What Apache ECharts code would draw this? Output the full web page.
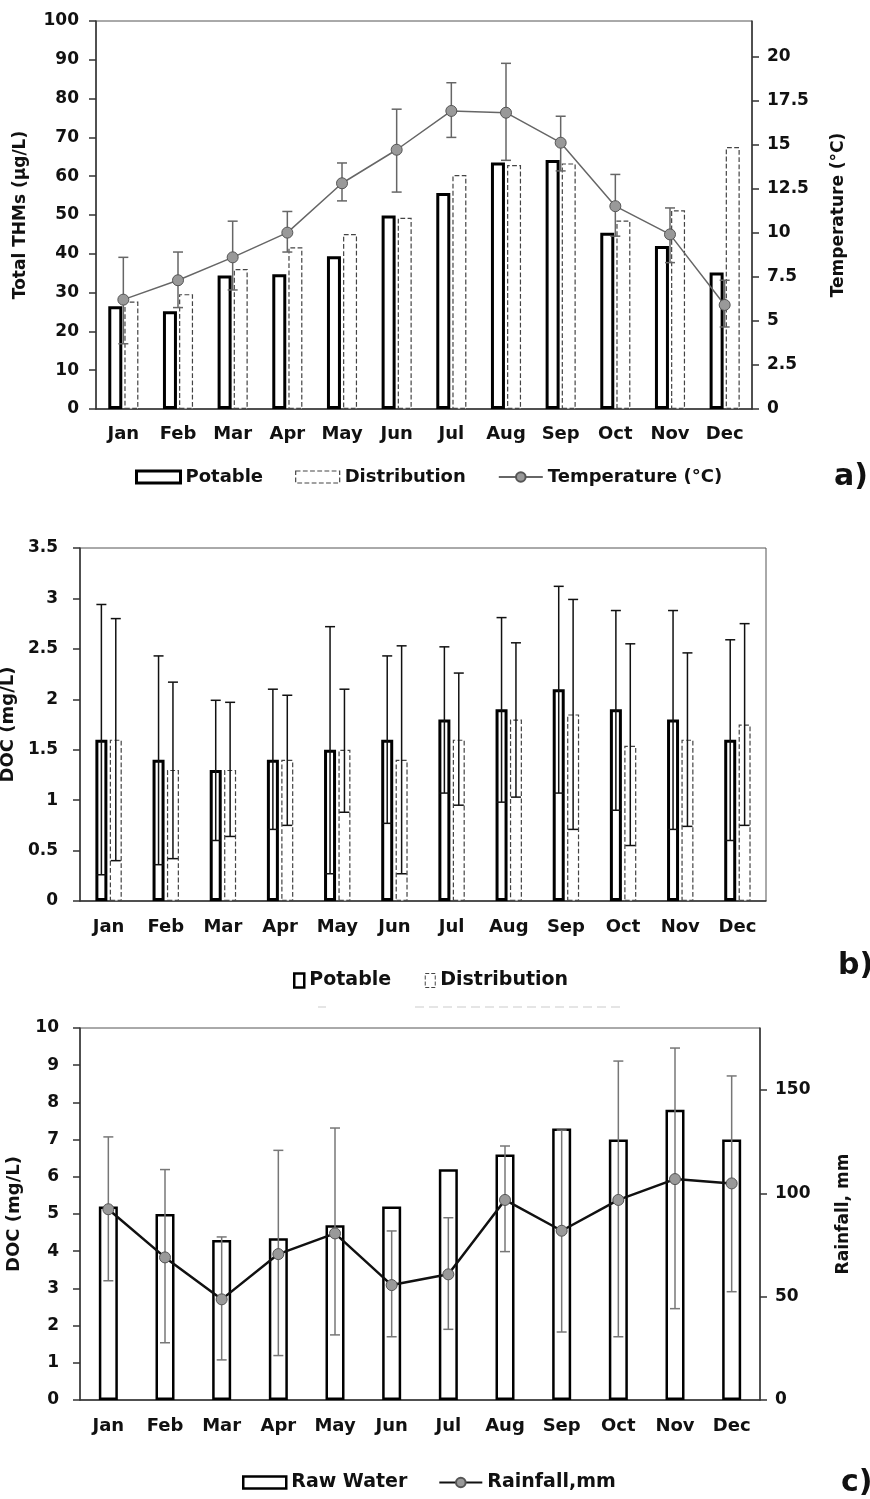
<!DOCTYPE html>
<html>
<head>
<meta charset="utf-8">
<script src="https://cdn.jsdelivr.net/npm/echarts@6/dist/echarts.min.js"></script>
<style>
html,body{margin:0;padding:0;background:#fff;}
#chart{width:870px;height:1499px;}
</style>
</head>
<body>
<div id="chart"></div>
<script>
// ---- data ----
const months = ['Jan','Feb','Mar','Apr','May','Jun','Jul','Aug','Sep','Oct','Nov','Dec'];

// panel a
const thmPotable      = [26.5, 25.2, 34.4, 34.7, 39.4, 49.9, 55.7, 63.5, 64.2, 45.4, 42.0, 35.2];
const thmDistribution = [27.7, 29.6, 36.1, 41.7, 45.1, 49.3, 60.3, 62.9, 63.3, 48.6, 51.2, 67.5];
const temperature     = [6.2, 7.3, 8.6, 10.0, 12.8, 14.7, 16.9, 16.8, 15.1, 11.5, 9.9, 5.9];
const tempLow         = [3.7, 5.75, 6.75, 8.9, 11.8, 12.3, 15.4, 14.1, 13.5, 9.8, 8.3, 4.65];
const tempHigh        = [8.6, 8.9, 10.65, 11.2, 13.95, 17.0, 18.5, 19.6, 16.6, 13.3, 11.4, 7.3];
const thmTicks = {min: 0, max: 100, interval: 10};
const tempTicks = {min: 0, max: 22, interval: 2.5};

// panel b
const docPotable      = [1.6, 1.4, 1.3, 1.4, 1.5, 1.6, 1.8, 1.9, 2.1, 1.9, 1.8, 1.6];
const docDistribution = [1.6, 1.3, 1.3, 1.4, 1.5, 1.4, 1.6, 1.8, 1.85, 1.54, 1.6, 1.75];
const docPotLow       = [0.26, 0.36, 0.60, 0.71, 0.27, 0.77, 1.07, 0.98, 1.07, 0.90, 0.71, 0.60];
const docPotHigh      = [2.94, 2.43, 1.99, 2.10, 2.72, 2.43, 2.52, 2.81, 3.12, 2.88, 2.88, 2.59];
const docDistLow      = [0.40, 0.42, 0.64, 0.75, 0.88, 0.27, 0.95, 1.03, 0.71, 0.55, 0.74, 0.75];
const docDistHigh     = [2.80, 2.17, 1.97, 2.04, 2.10, 2.53, 2.26, 2.56, 2.99, 2.55, 2.46, 2.75];
const docTicks = {min: 0, max: 3.5, interval: 0.5};

// panel c
const rawWater  = [5.2, 5.0, 4.3, 4.35, 4.7, 5.2, 6.2, 6.6, 7.3, 7.0, 7.8, 7.0];
const rainfall  = [92.3, 69.0, 48.7, 70.6, 80.6, 55.6, 60.8, 96.8, 81.9, 96.8, 106.9, 104.8];
const rainLow   = [57.7, 27.7, 19.4, 21.5, 31.5, 30.6, 34.2, 71.8, 32.9, 30.6, 44.2, 52.4];
const rainHigh  = [127.3, 111.5, 78.9, 120.8, 131.6, 81.8, 88.2, 122.9, 130.6, 164.0, 170.3, 156.8];
const rawTicks  = {min: 0, max: 10, interval: 1};
const rainTicks = {min: 0, max: 180, interval: 50};

// ---- helpers ----
const FONT = 'DejaVu Sans';
function errData(lo, hi){ return months.map((m,i)=>[i, lo[i], hi[i]]); }
function errRender(offset, cap, color, width){
  return function(params, api){
    const idx = api.value(0);
    const pLo = api.coord([idx, api.value(1)]);
    const pHi = api.coord([idx, api.value(2)]);
    const cx = pLo[0] + offset;
    const st = {stroke: color, lineWidth: width};
    return {type:'group', children:[
      {type:'line', shape:{x1:cx, y1:pHi[1], x2:cx, y2:pLo[1]}, style:st},
      {type:'line', shape:{x1:cx-cap, y1:pHi[1], x2:cx+cap, y2:pHi[1]}, style:st},
      {type:'line', shape:{x1:cx-cap, y1:pLo[1], x2:cx+cap, y2:pLo[1]}, style:st}
    ]};
  };
}
const tickLbl = {fontFamily: FONT, fontWeight:'bold', fontSize:17, color:'#111'};
function xAx(grid, margin){
  return {type:'category', gridIndex:grid, data:months,
    axisLine:{lineStyle:{color:'#333', width:1.5}}, axisTick:{show:false},
    axisLabel:Object.assign({interval:0, margin:margin}, tickLbl, {fontSize:18})};
}
function yAx(grid, t, pos, name, gap, margin, extra){
  return Object.assign({type:'value', gridIndex:grid, position:pos, min:t.min, max:t.max, interval:t.interval,
    name:name, nameLocation:'middle', nameGap:gap, nameRotate:90,
    nameTextStyle:{fontFamily:FONT, fontWeight:'bold', fontSize:17, color:'#111'},
    axisLine:{show:true, lineStyle:{color:'#333', width:1.5}},
    axisTick:{show:true, inside:false, length:7, lineStyle:{color:'#333', width:1.5}},
    splitLine:{show:false},
    axisLabel:Object.assign({margin:margin}, tickLbl)}, extra||{});
}
const legText = {fontFamily:FONT, fontWeight:'bold', fontSize:18, color:'#111'};

const chart = echarts.init(document.getElementById('chart'), null, {renderer:'canvas'});
const option = {
  backgroundColor:'#fff',
  animation:false,
  grid:[
    {left:96, top:21, width:656, height:388, show:true, borderColor:'#555', borderWidth:1, containLabel:false, outerBoundsMode:'none'},
    {left:80, top:548, width:686, height:353, show:true, borderColor:'#555', borderWidth:1, containLabel:false, outerBoundsMode:'none'},
    {left:80, top:1028, width:680, height:372, show:true, borderColor:'#555', borderWidth:1, containLabel:false, outerBoundsMode:'none'}
  ],
  xAxis:[xAx(0,16), xAx(1,17), xAx(2,17)],
  yAxis:[
    yAx(0, thmTicks, 'left', 'Total THMs (µg/L)', 67, 17),
    yAx(0, tempTicks, 'right', 'Temperature (°C)', 78, 15, {axisLabel:Object.assign({margin:15, showMaxLabel:false}, tickLbl)}),
    yAx(1, docTicks, 'left', 'DOC (mg/L)', 63, 22, {nameTextStyle:{fontFamily:FONT, fontWeight:'bold', fontSize:18, color:'#111'}}),
    yAx(2, rawTicks, 'left', 'DOC (mg/L)', 57, 21, {nameTextStyle:{fontFamily:FONT, fontWeight:'bold', fontSize:18, color:'#111'}}),
    yAx(2, rainTicks, 'right', 'Rainfall, mm', 75, 15, {axisLabel:Object.assign({margin:15, showMaxLabel:false}, tickLbl)})
  ],
  legend:[
    {left:130, top:463, itemWidth:44, itemHeight:12, itemGap:32, textStyle:legText,
      data:[
        {name:'Potable', icon:'rect', itemStyle:{color:'#fff', borderColor:'#000', borderWidth:3}},
        {name:'Distribution', icon:'rect', itemStyle:{color:'#fff', borderColor:'#444', borderWidth:1.2, borderType:'dashed'}},
        {name:'Temperature (°C)'}
      ]},
    {left:288, top:966, itemWidth:10, itemHeight:14, itemGap:27, textStyle:Object.assign({}, legText, {fontSize:19}),
      data:[
        {name:'Potable ', icon:'rect', itemStyle:{color:'#fff', borderColor:'#000', borderWidth:2.5}},
        {name:'Distribution ', icon:'rect', itemStyle:{color:'#fff', borderColor:'#444', borderWidth:1, borderType:'dashed'}}
      ]},
    {left:237, top:1468, itemWidth:43, itemHeight:12, itemGap:31, textStyle:Object.assign({}, legText, {fontSize:19}),
      data:[
        {name:'Raw Water', icon:'rect', itemStyle:{color:'#fff', borderColor:'#000', borderWidth:2.5}},
        {name:'Rainfall,mm'}
      ]}
  ],
  series:[
    // panel a
    {name:'Potable', type:'bar', xAxisIndex:0, yAxisIndex:0, data:thmPotable, barWidth:14, barGap:'15%',
      itemStyle:{color:'#fff', borderColor:'#000', borderWidth:3}},
    {name:'Distribution', type:'bar', xAxisIndex:0, yAxisIndex:0, data:thmDistribution, barWidth:14, barGap:'15%',
      itemStyle:{color:'#fff', borderColor:'#444', borderWidth:1.2, borderType:'dashed'}},
    {name:'tempErr', type:'custom', xAxisIndex:0, yAxisIndex:1, data:errData(tempLow, tempHigh),
      renderItem:errRender(0, 5, '#666', 1.5), encode:{x:0, y:[1,2]}, z:3, silent:true},
    {name:'Temperature (°C)', type:'line', xAxisIndex:0, yAxisIndex:1, data:temperature, z:4,
      symbol:'circle', symbolSize:11, lineStyle:{color:'#666', width:1.5},
      itemStyle:{color:'#999', borderColor:'#555', borderWidth:1}},
    // panel b
    {name:'Potable ', type:'bar', xAxisIndex:1, yAxisIndex:2, data:docPotable, barWidth:12, barGap:'20%',
      itemStyle:{color:'#fff', borderColor:'#000', borderWidth:3}},
    {name:'Distribution ', type:'bar', xAxisIndex:1, yAxisIndex:2, data:docDistribution, barWidth:12, barGap:'20%',
      itemStyle:{color:'#fff', borderColor:'#444', borderWidth:1.2, borderType:'dashed'}},
    {name:'potErr', type:'custom', xAxisIndex:1, yAxisIndex:2, data:errData(docPotLow, docPotHigh),
      renderItem:errRender(-7.2, 5, '#111', 1.5), encode:{x:0, y:[1,2]}, z:3, silent:true},
    {name:'distErr', type:'custom', xAxisIndex:1, yAxisIndex:2, data:errData(docDistLow, docDistHigh),
      renderItem:errRender(7.2, 5, '#111', 1.5), encode:{x:0, y:[1,2]}, z:3, silent:true},
    // panel c
    {name:'Raw Water', type:'bar', xAxisIndex:2, yAxisIndex:3, data:rawWater, barWidth:19,
      itemStyle:{color:'#fff', borderColor:'#000', borderWidth:2.5}},
    {name:'rainErr', type:'custom', xAxisIndex:2, yAxisIndex:4, data:errData(rainLow, rainHigh),
      renderItem:errRender(0, 5, '#777', 1.5), encode:{x:0, y:[1,2]}, z:3, silent:true},
    {name:'Rainfall,mm', type:'line', xAxisIndex:2, yAxisIndex:4, data:rainfall, z:4,
      symbol:'circle', symbolSize:11, lineStyle:{color:'#111', width:2.5},
      itemStyle:{color:'#999', borderColor:'#555', borderWidth:1}}
  ],
  graphic:[
    {type:'text', left:834, top:462, style:{text:'a)', fontFamily:FONT, fontWeight:'bold', fontSize:30, fill:'#111'}},
    {type:'text', left:838, top:951, style:{text:'b)', fontFamily:FONT, fontWeight:'bold', fontSize:30, fill:'#111'}},
    {type:'text', left:841, top:1468, style:{text:'c)', fontFamily:FONT, fontWeight:'bold', fontSize:30, fill:'#111'}},
    {type:'line', shape:{x1:415, y1:1007, x2:620, y2:1007}, style:{stroke:'#ddd', lineWidth:1.5, lineDash:[9,5]}},
    {type:'line', shape:{x1:318, y1:1007, x2:326, y2:1007}, style:{stroke:'#ddd', lineWidth:1.5}}
  ]
};
chart.setOption(option);
</script>
</body>
</html>
